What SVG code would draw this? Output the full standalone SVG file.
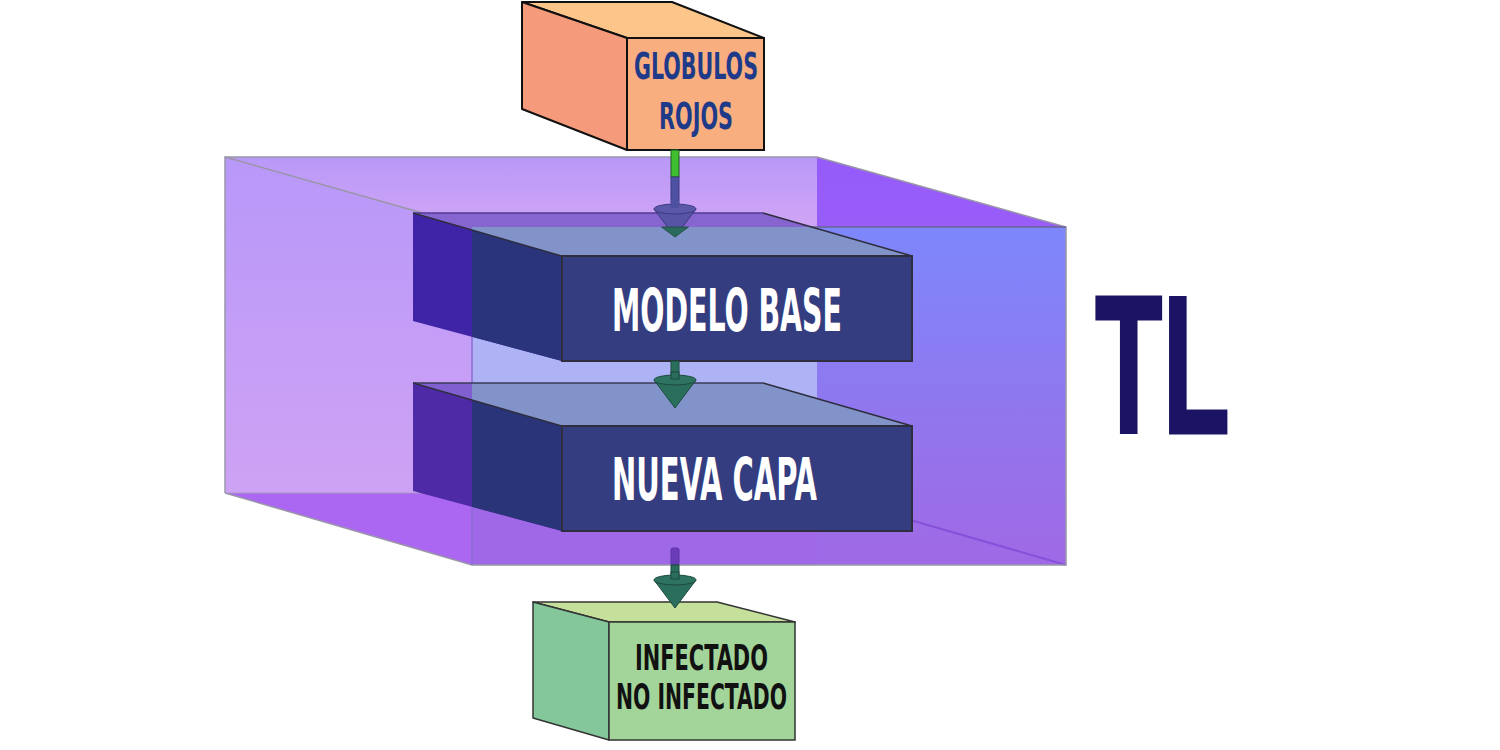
<svg xmlns="http://www.w3.org/2000/svg" width="1500" height="750" viewBox="0 0 1500 750">
<defs>
<linearGradient id="gBack" x1="0" y1="0" x2="0" y2="1"><stop offset="0" stop-color="#b898f9"/><stop offset="1" stop-color="#cea2f4"/></linearGradient>
<linearGradient id="gTop" x1="0" y1="0" x2="0" y2="1"><stop offset="0" stop-color="#b898f8"/><stop offset="1" stop-color="#d1a5f5"/></linearGradient>
<linearGradient id="gRight" x1="0" y1="0" x2="0" y2="1"><stop offset="0" stop-color="#955bfa"/><stop offset="1" stop-color="#a966f1"/></linearGradient>
<linearGradient id="gFrontR" x1="0" y1="0" x2="0" y2="1"><stop offset="0" stop-color="#7d87fb"/><stop offset="0.5" stop-color="#8f78ef"/><stop offset="1" stop-color="#a069e5"/></linearGradient>
<clipPath id="inFront"><rect x="472" y="227" width="594" height="338"/></clipPath>
<style>
.lbl{font-family:"DejaVu Sans Condensed","DejaVu Sans","Liberation Sans",sans-serif;font-weight:bold;}
.edge{fill:none;stroke:#9a96a8;stroke-width:1.5;}
.bedge{fill:none;stroke:#2e2e3e;stroke-width:1.5;}
.cone{stroke:#1d4a40;stroke-width:1;}
</style>
</defs>

<g id="tl-box">
<rect x="225" y="157" width="592" height="336" fill="url(#gBack)"/>
<polygon points="225,157 817,157 817,227 472,227" fill="url(#gTop)"/>
<polygon points="817,157 1066,227 1066,565 817,493" fill="url(#gRight)"/>
<polygon points="225,493 817,493 1066,565 472,565" fill="#ab67f2"/>
<rect x="472" y="227" width="345" height="266" fill="#adb3f5"/>
<rect x="817" y="227" width="249" height="338" fill="url(#gFrontR)"/>
<rect x="472" y="493" width="345" height="72" fill="#9f68e6"/>
<line x1="817" y1="493" x2="1066" y2="565" stroke="#8650da" stroke-width="2"/>
<polyline class="edge" points="225,493 225,157 817,157 1066,227 1066,565 472,565 225,493"/>
<line class="edge" x1="225" y1="157" x2="472" y2="227" stroke="#8f88b4"/>
<line x1="225" y1="493" x2="472" y2="493" stroke="#a898c8" stroke-width="1"/>
<line x1="472" y1="227" x2="472" y2="565" stroke="#8a6cd0" stroke-width="1.5"/>
<line x1="472" y1="227" x2="1066" y2="227" stroke="#6a6494" stroke-width="1.5"/>
</g>

<g id="node-modelo-base">
<polygon points="413,213 763,213 912,256 562,256" fill="#8765d0"/>
<polygon points="413,213 562,256 562,361 413,321" fill="#4024a8"/>
<g clip-path="url(#inFront)">
<polygon points="413,213 763,213 912,256 562,256" fill="#8193c8"/>
<polygon points="413,213 562,256 562,361 413,321" fill="#29347a"/>
</g>
<line x1="413" y1="213" x2="763" y2="213" stroke="#503a98" stroke-width="1.5"/>
<polyline class="bedge" points="763,213 912,256"/>
<polyline class="bedge" points="413,213 562,256 562,361"/>
<rect x="562" y="256" width="350" height="105" fill="#333d80" stroke="#2e2e3e" stroke-width="2"/>
<text class="lbl" x="612" y="331" font-size="58" fill="#ffffff" textLength="230" lengthAdjust="spacingAndGlyphs">MODELO BASE</text>
</g>

<g id="node-nueva-capa">
<polygon points="413,383 763,383 912,426 562,426" fill="#8060d0"/>
<polygon points="413,383 562,426 562,531 413,491" fill="#4e2aa6"/>
<g clip-path="url(#inFront)">
<polygon points="413,383 763,383 912,426 562,426" fill="#8193c8"/>
<polygon points="413,383 562,426 562,531 413,491" fill="#2a3479"/>
</g>
<line x1="413" y1="383" x2="763" y2="383" stroke="#3a3a5a" stroke-width="1.5"/>
<polyline class="bedge" points="763,383 912,426"/>
<polyline class="bedge" points="413,383 562,426 562,531"/>
<rect x="562" y="426" width="350" height="105" fill="#333d80" stroke="#2e2e3e" stroke-width="2"/>
<text class="lbl" x="612" y="500" font-size="58" fill="#ffffff" textLength="205" lengthAdjust="spacingAndGlyphs">NUEVA CAPA</text>
</g>

<g id="node-globulos-rojos">
<polygon points="522,2 672,2 764,38 627,38" fill="#fcc68a" stroke="#111" stroke-width="2" stroke-linejoin="round"/>
<polygon points="522,2 627,38 627,150 522,109" fill="#f59a7a" stroke="#111" stroke-width="2" stroke-linejoin="round"/>
<rect x="627" y="38" width="137" height="112" fill="#f9ae80" stroke="#111" stroke-width="2"/>
<text class="lbl" x="634" y="79" font-size="38" fill="#1f3a88" textLength="124" lengthAdjust="spacingAndGlyphs">GLOBULOS</text>
<text class="lbl" x="659" y="129" font-size="38" fill="#1f3a88" textLength="74" lengthAdjust="spacingAndGlyphs">ROJOS</text>
</g>

<g id="node-infectado">
<polygon points="533,602 717,602 795,622 609,622" fill="#c5e09b" stroke="#333" stroke-width="1.5" stroke-linejoin="round"/>
<polygon points="533,602 609,622 609,740 533,718" fill="#84c79a" stroke="#333" stroke-width="1.5" stroke-linejoin="round"/>
<rect x="609" y="622" width="186" height="118" fill="#a3d49a" stroke="#333" stroke-width="1.5"/>
<text class="lbl" x="635" y="670" font-size="36" fill="#111111" textLength="133" lengthAdjust="spacingAndGlyphs">INFECTADO</text>
<text class="lbl" x="616" y="709" font-size="36" fill="#111111" textLength="171" lengthAdjust="spacingAndGlyphs">NO INFECTADO</text>
</g>

<g id="label-tl">
<text x="1095" y="433" font-family="Liberation Sans, Arial, sans-serif" font-weight="bold" font-size="196" fill="#1b1464" stroke="#1b1464" stroke-width="3" textLength="135" lengthAdjust="spacingAndGlyphs">TL</text>
</g>

<g id="connectors">
<rect x="671" y="150" width="8" height="27" fill="#3fbf2f" stroke="#1f5a1f" stroke-width="1"/>
<rect x="671" y="177" width="8" height="31" fill="#4e50a2" stroke="#3a3a80" stroke-width="1"/>
<path d="M654 209 L675 237 L696 209 Z" fill="#5754a6" stroke="#3c3a80" stroke-width="1"/>
<ellipse cx="675" cy="209" rx="21" ry="5" fill="#5b58aa" stroke="#3c3a80" stroke-width="1"/>
<rect x="671" y="200" width="8" height="8" fill="#4e50a2"/>
<path d="M661.5 227 L675 237 L688.5 227 Z" fill="#2a6a5c" stroke="#1d4a40" stroke-width="0.8"/>

<rect x="671" y="361" width="8" height="19" fill="#2a6e5c" stroke="#1d4a40" stroke-width="1"/>
<path class="cone" d="M654 380 L675 408 L696 380 Z" fill="#2a6e5c"/>
<ellipse class="cone" cx="675" cy="380" rx="21" ry="5" fill="#2d735f"/>
<rect x="671" y="372" width="8" height="7" fill="#2a6e5c" stroke="#1d4a40" stroke-width="1"/>

<rect x="671" y="548" width="8" height="17" rx="2" fill="#6a3cb8" stroke="#5a34a0" stroke-width="1"/>
<rect x="671" y="565" width="8" height="15" fill="#2a6e5c" stroke="#1d4a40" stroke-width="1"/>
<path class="cone" d="M654 580 L675 608 L696 580 Z" fill="#2a6e5c"/>
<ellipse class="cone" cx="675" cy="580" rx="21" ry="5" fill="#2d735f"/>
<rect x="671" y="572" width="8" height="7" fill="#2a6e5c" stroke="#1d4a40" stroke-width="1"/>
</g>
</svg>
